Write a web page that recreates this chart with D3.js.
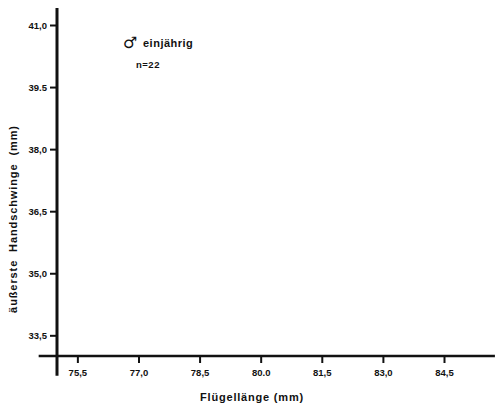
<!DOCTYPE html>
<html>
<head>
<meta charset="utf-8">
<script src="https://cdn.jsdelivr.net/npm/d3@7"></script>
<style>
  html, body { margin: 0; padding: 0; background: #fff; }
  svg text { font-family: "Liberation Sans", Arial, sans-serif; font-weight: bold; fill: #111; }
</style>
</head>
<body>
<svg id="chart" width="495" height="407"></svg>
<script>
// Axis ticks (values and printed labels, as in the original)
const xTicks = [75.5, 77.0, 78.5, 80.0, 81.5, 83.0, 84.5];
const xTickLabels = ['75,5', '77,0', '78,5', '80.0', '81,5', '83,0', '84,5'];
const yTicks = [33.5, 35.0, 36.5, 38.0, 39.5, 41.0];
const yTickLabels = ['33,5', '35,0', '36,5', '38,0', '39.5', '41,0'];

// No measured points are plotted in this panel
const points = [];
const groupLabel = 'einjährig';
const sampleSize = 22;

const svg = d3.select('#chart');

const x = d3.scaleLinear().domain([75.0, 84.5]).range([57, 444]);
const y = d3.scaleLinear().domain([33.0, 41.0]).range([356, 25]);

// Axis lines run past the tick range, like the hand-drawn frame
const xLine = [74.55, 85.75];
const yLine = [32.52, 41.41];

const ink = '#111';

// y axis
const yAxis = svg.append('g')
  .attr('transform', `translate(${x(75.0)},0)`)
  .call(d3.axisLeft(y)
    .tickValues(yTicks)
    .tickFormat((d, i) => yTickLabels[i])
    .tickSize(7)
    .tickPadding(3));
yAxis.select('.domain').remove();
yAxis.selectAll('line').attr('stroke', ink).attr('stroke-width', 2);
yAxis.selectAll('text').style('font-size', '9.5px').attr('font-family', null);

svg.append('line')
  .attr('x1', x(75.0)).attr('x2', x(75.0))
  .attr('y1', y(yLine[1])).attr('y2', y(yLine[0]))
  .attr('stroke', ink).attr('stroke-width', 3);

// x axis
const xAxis = svg.append('g')
  .attr('transform', `translate(0,${y(33.0)})`)
  .call(d3.axisBottom(x)
    .tickValues(xTicks)
    .tickFormat((d, i) => xTickLabels[i])
    .tickSize(7)
    .tickPadding(6));
xAxis.select('.domain').remove();
xAxis.selectAll('line').attr('stroke', ink).attr('stroke-width', 2);
xAxis.selectAll('text').style('font-size', '9.5px').attr('font-family', null);

svg.append('line')
  .attr('x1', x(xLine[0])).attr('x2', x(xLine[1]))
  .attr('y1', y(33.0)).attr('y2', y(33.0))
  .attr('stroke', ink).attr('stroke-width', 2.5);

// data points (empty)
svg.append('g').selectAll('circle')
  .data(points)
  .join('circle')
  .attr('cx', d => x(d[0]))
  .attr('cy', d => y(d[1]))
  .attr('r', 2.5)
  .attr('fill', ink);

// axis titles
svg.append('text')
  .attr('x', 252).attr('y', 401)
  .attr('text-anchor', 'middle')
  .style('font-size', '11px')
  .style('letter-spacing', '0.8px')
  .text('Flügellänge (mm)');

svg.append('text')
  .attr('transform', 'translate(17,219) rotate(-90)')
  .attr('text-anchor', 'middle')
  .style('font-size', '11px')
  .style('letter-spacing', '0.9px')
  .style('white-space', 'pre')
  .text('äußerste  Handschwinge  (mm)');

// group annotation
svg.append('text')
  .attr('x', 123).attr('y', 48)
  .style('font-family', '"DejaVu Sans", sans-serif')
  .style('font-size', '16px')
  .text('♂');
svg.append('text')
  .attr('x', 143).attr('y', 47)
  .style('font-size', '11px')
  .style('letter-spacing', '0.5px')
  .text(groupLabel);
svg.append('text')
  .attr('x', 136).attr('y', 68)
  .style('font-size', '9.5px')
  .style('letter-spacing', '0.5px')
  .text(`n=${sampleSize}`);
</script>
</body>
</html>
